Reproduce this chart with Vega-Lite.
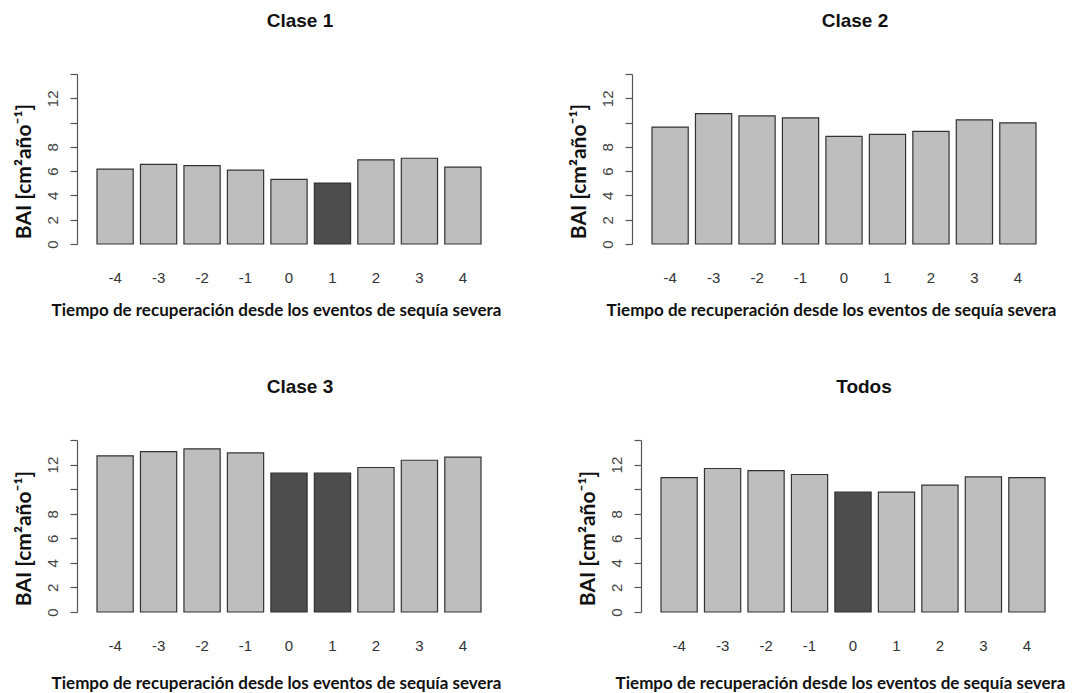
{
  "$schema": "https://vega.github.io/schema/vega-lite/v6.json",
  "background": "white",
  "padding": {"left": 12, "top": 12, "right": 2, "bottom": 2},
  "data": {"values": [
    {"panel": "Clase 1", "t": -4, "bai": 6.16, "sequia": "no"},
    {"panel": "Clase 1", "t": -3, "bai": 6.55, "sequia": "no"},
    {"panel": "Clase 1", "t": -2, "bai": 6.46, "sequia": "no"},
    {"panel": "Clase 1", "t": -1, "bai": 6.08, "sequia": "no"},
    {"panel": "Clase 1", "t": 0, "bai": 5.32, "sequia": "no"},
    {"panel": "Clase 1", "t": 1, "bai": 5.02, "sequia": "si"},
    {"panel": "Clase 1", "t": 2, "bai": 6.93, "sequia": "no"},
    {"panel": "Clase 1", "t": 3, "bai": 7.06, "sequia": "no"},
    {"panel": "Clase 1", "t": 4, "bai": 6.33, "sequia": "no"},
    {"panel": "Clase 2", "t": -4, "bai": 9.63, "sequia": "no"},
    {"panel": "Clase 2", "t": -3, "bai": 10.74, "sequia": "no"},
    {"panel": "Clase 2", "t": -2, "bai": 10.55, "sequia": "no"},
    {"panel": "Clase 2", "t": -1, "bai": 10.39, "sequia": "no"},
    {"panel": "Clase 2", "t": 0, "bai": 8.86, "sequia": "no"},
    {"panel": "Clase 2", "t": 1, "bai": 9.03, "sequia": "no"},
    {"panel": "Clase 2", "t": 2, "bai": 9.27, "sequia": "no"},
    {"panel": "Clase 2", "t": 3, "bai": 10.23, "sequia": "no"},
    {"panel": "Clase 2", "t": 4, "bai": 9.98, "sequia": "no"},
    {"panel": "Clase 3", "t": -4, "bai": 12.71, "sequia": "no"},
    {"panel": "Clase 3", "t": -3, "bai": 13.06, "sequia": "no"},
    {"panel": "Clase 3", "t": -2, "bai": 13.28, "sequia": "no"},
    {"panel": "Clase 3", "t": -1, "bai": 12.95, "sequia": "no"},
    {"panel": "Clase 3", "t": 0, "bai": 11.30, "sequia": "si"},
    {"panel": "Clase 3", "t": 1, "bai": 11.30, "sequia": "si"},
    {"panel": "Clase 3", "t": 2, "bai": 11.76, "sequia": "no"},
    {"panel": "Clase 3", "t": 3, "bai": 12.35, "sequia": "no"},
    {"panel": "Clase 3", "t": 4, "bai": 12.60, "sequia": "no"},
    {"panel": "Todos", "t": -4, "bai": 10.94, "sequia": "no"},
    {"panel": "Todos", "t": -3, "bai": 11.68, "sequia": "no"},
    {"panel": "Todos", "t": -2, "bai": 11.51, "sequia": "no"},
    {"panel": "Todos", "t": -1, "bai": 11.19, "sequia": "no"},
    {"panel": "Todos", "t": 0, "bai": 9.75, "sequia": "si"},
    {"panel": "Todos", "t": 1, "bai": 9.75, "sequia": "no"},
    {"panel": "Todos", "t": 2, "bai": 10.32, "sequia": "no"},
    {"panel": "Todos", "t": 3, "bai": 11.00, "sequia": "no"},
    {"panel": "Todos", "t": 4, "bai": 10.94, "sequia": "no"}
  ]},
  "vconcat": [
    {
      "hconcat": [
        {
          "title": {"text": "Clase 1"},
          "width": 424, "height": 170,
          "transform": [{"filter": "datum.panel == 'Clase 1'"}],
          "mark": {"type": "bar", "stroke": "#333333", "strokeWidth": 1.2},
          "encoding": {
            "x": {"field": "t", "type": "ordinal", "sort": "ascending", "scale": {"paddingInner": 0.1667, "paddingOuter": 0.46}, "axis": {"title": "Tiempo de recuperación desde los eventos de sequía severa"}},
            "y": {"field": "bai", "type": "quantitative", "scale": {"domain": [0, 14], "nice": false}, "axis": {"title": "BAI [cm²año⁻¹]", "values": [0, 2, 4, 6, 8, 10, 12, 14], "labelExpr": "datum.value == 10 || datum.value == 14 ? '' : datum.label"}},
            "color": {"field": "sequia", "type": "nominal", "scale": {"domain": ["no", "si"], "range": ["#BEBEBE", "#4D4D4D"]}, "legend": null}
          }
        },
        {
          "title": {"text": "Clase 2"},
          "width": 424, "height": 170,
          "transform": [{"filter": "datum.panel == 'Clase 2'"}],
          "mark": {"type": "bar", "stroke": "#333333", "strokeWidth": 1.2},
          "encoding": {
            "x": {"field": "t", "type": "ordinal", "sort": "ascending", "scale": {"paddingInner": 0.1667, "paddingOuter": 0.46}, "axis": {"title": "Tiempo de recuperación desde los eventos de sequía severa"}},
            "y": {"field": "bai", "type": "quantitative", "scale": {"domain": [0, 14], "nice": false}, "axis": {"title": "BAI [cm²año⁻¹]", "values": [0, 2, 4, 6, 8, 10, 12, 14], "labelExpr": "datum.value == 10 || datum.value == 14 ? '' : datum.label"}},
            "color": {"field": "sequia", "type": "nominal", "scale": {"domain": ["no", "si"], "range": ["#BEBEBE", "#4D4D4D"]}, "legend": null}
          }
        }
      ],
      "spacing": 131,
      "bounds": "flush"
    },
    {
      "hconcat": [
        {
          "title": {"text": "Clase 3"},
          "width": 424, "height": 172,
          "transform": [{"filter": "datum.panel == 'Clase 3'"}],
          "mark": {"type": "bar", "stroke": "#333333", "strokeWidth": 1.2},
          "encoding": {
            "x": {"field": "t", "type": "ordinal", "sort": "ascending", "scale": {"paddingInner": 0.1667, "paddingOuter": 0.46}, "axis": {"title": "Tiempo de recuperación desde los eventos de sequía severa", "titleY": 71}},
            "y": {"field": "bai", "type": "quantitative", "scale": {"domain": [0, 14], "nice": false}, "axis": {"title": "BAI [cm²año⁻¹]", "titleY": 98, "values": [0, 2, 4, 6, 8, 10, 12, 14], "labelExpr": "datum.value == 10 || datum.value == 14 ? '' : datum.label"}},
            "color": {"field": "sequia", "type": "nominal", "scale": {"domain": ["no", "si"], "range": ["#BEBEBE", "#4D4D4D"]}, "legend": null}
          }
        },
        {
          "title": {"text": "Todos"},
          "width": 424, "height": 172,
          "transform": [{"filter": "datum.panel == 'Todos'"}],
          "mark": {"type": "bar", "stroke": "#333333", "strokeWidth": 1.2},
          "encoding": {
            "x": {"field": "t", "type": "ordinal", "sort": "ascending", "scale": {"paddingInner": 0.1667, "paddingOuter": 0.46}, "axis": {"title": "Tiempo de recuperación desde los eventos de sequía severa", "titleY": 71}},
            "y": {"field": "bai", "type": "quantitative", "scale": {"domain": [0, 14], "nice": false}, "axis": {"title": "BAI [cm²año⁻¹]", "titleY": 98, "values": [0, 2, 4, 6, 8, 10, 12, 14], "labelExpr": "datum.value == 10 || datum.value == 14 ? '' : datum.label"}},
            "color": {"field": "sequia", "type": "nominal", "scale": {"domain": ["no", "si"], "range": ["#BEBEBE", "#4D4D4D"]}, "legend": null}
          }
        }
      ],
      "spacing": 140,
      "bounds": "flush"
    }
  ],
  "spacing": 366,
  "bounds": "flush",
  "config": {
    "view": {"stroke": null},
    "title": {"font": "Liberation Sans", "fontSize": 19, "fontWeight": "bold", "color": "#111111", "anchor": "middle", "frame": "group", "baseline": "alphabetic", "offset": 42, "dx": 11},
    "axisX": {"domain": false, "ticks": false, "labelPadding": 26, "labelFont": "Liberation Sans", "labelFontSize": 15, "labelColor": "#333333", "labelAngle": 0, "titleFont": "Lato", "titleFontSize": 17, "titleFontWeight": "bold", "titleColor": "#111111", "titleBaseline": "middle", "titleAlign": "center", "titleY": 66, "titleX": 199},
    "axisY": {"grid": false, "domainColor": "#555555", "domainWidth": 1.2, "tickColor": "#555555", "tickWidth": 1.2, "tickSize": 7, "labelAngle": -90, "labelAlign": "center", "labelBaseline": "bottom", "labelPadding": 10, "labelOverlap": false, "labelFlush": false, "labelFont": "Liberation Sans", "labelFontSize": 15, "labelColor": "#444444", "titleFont": "Lato", "titleFontSize": 21, "titleFontWeight": "bold", "titleColor": "#111111", "titleAngle": -90, "titleBaseline": "middle", "titleAlign": "center", "titleX": -53, "titleY": 97}
  }
}
